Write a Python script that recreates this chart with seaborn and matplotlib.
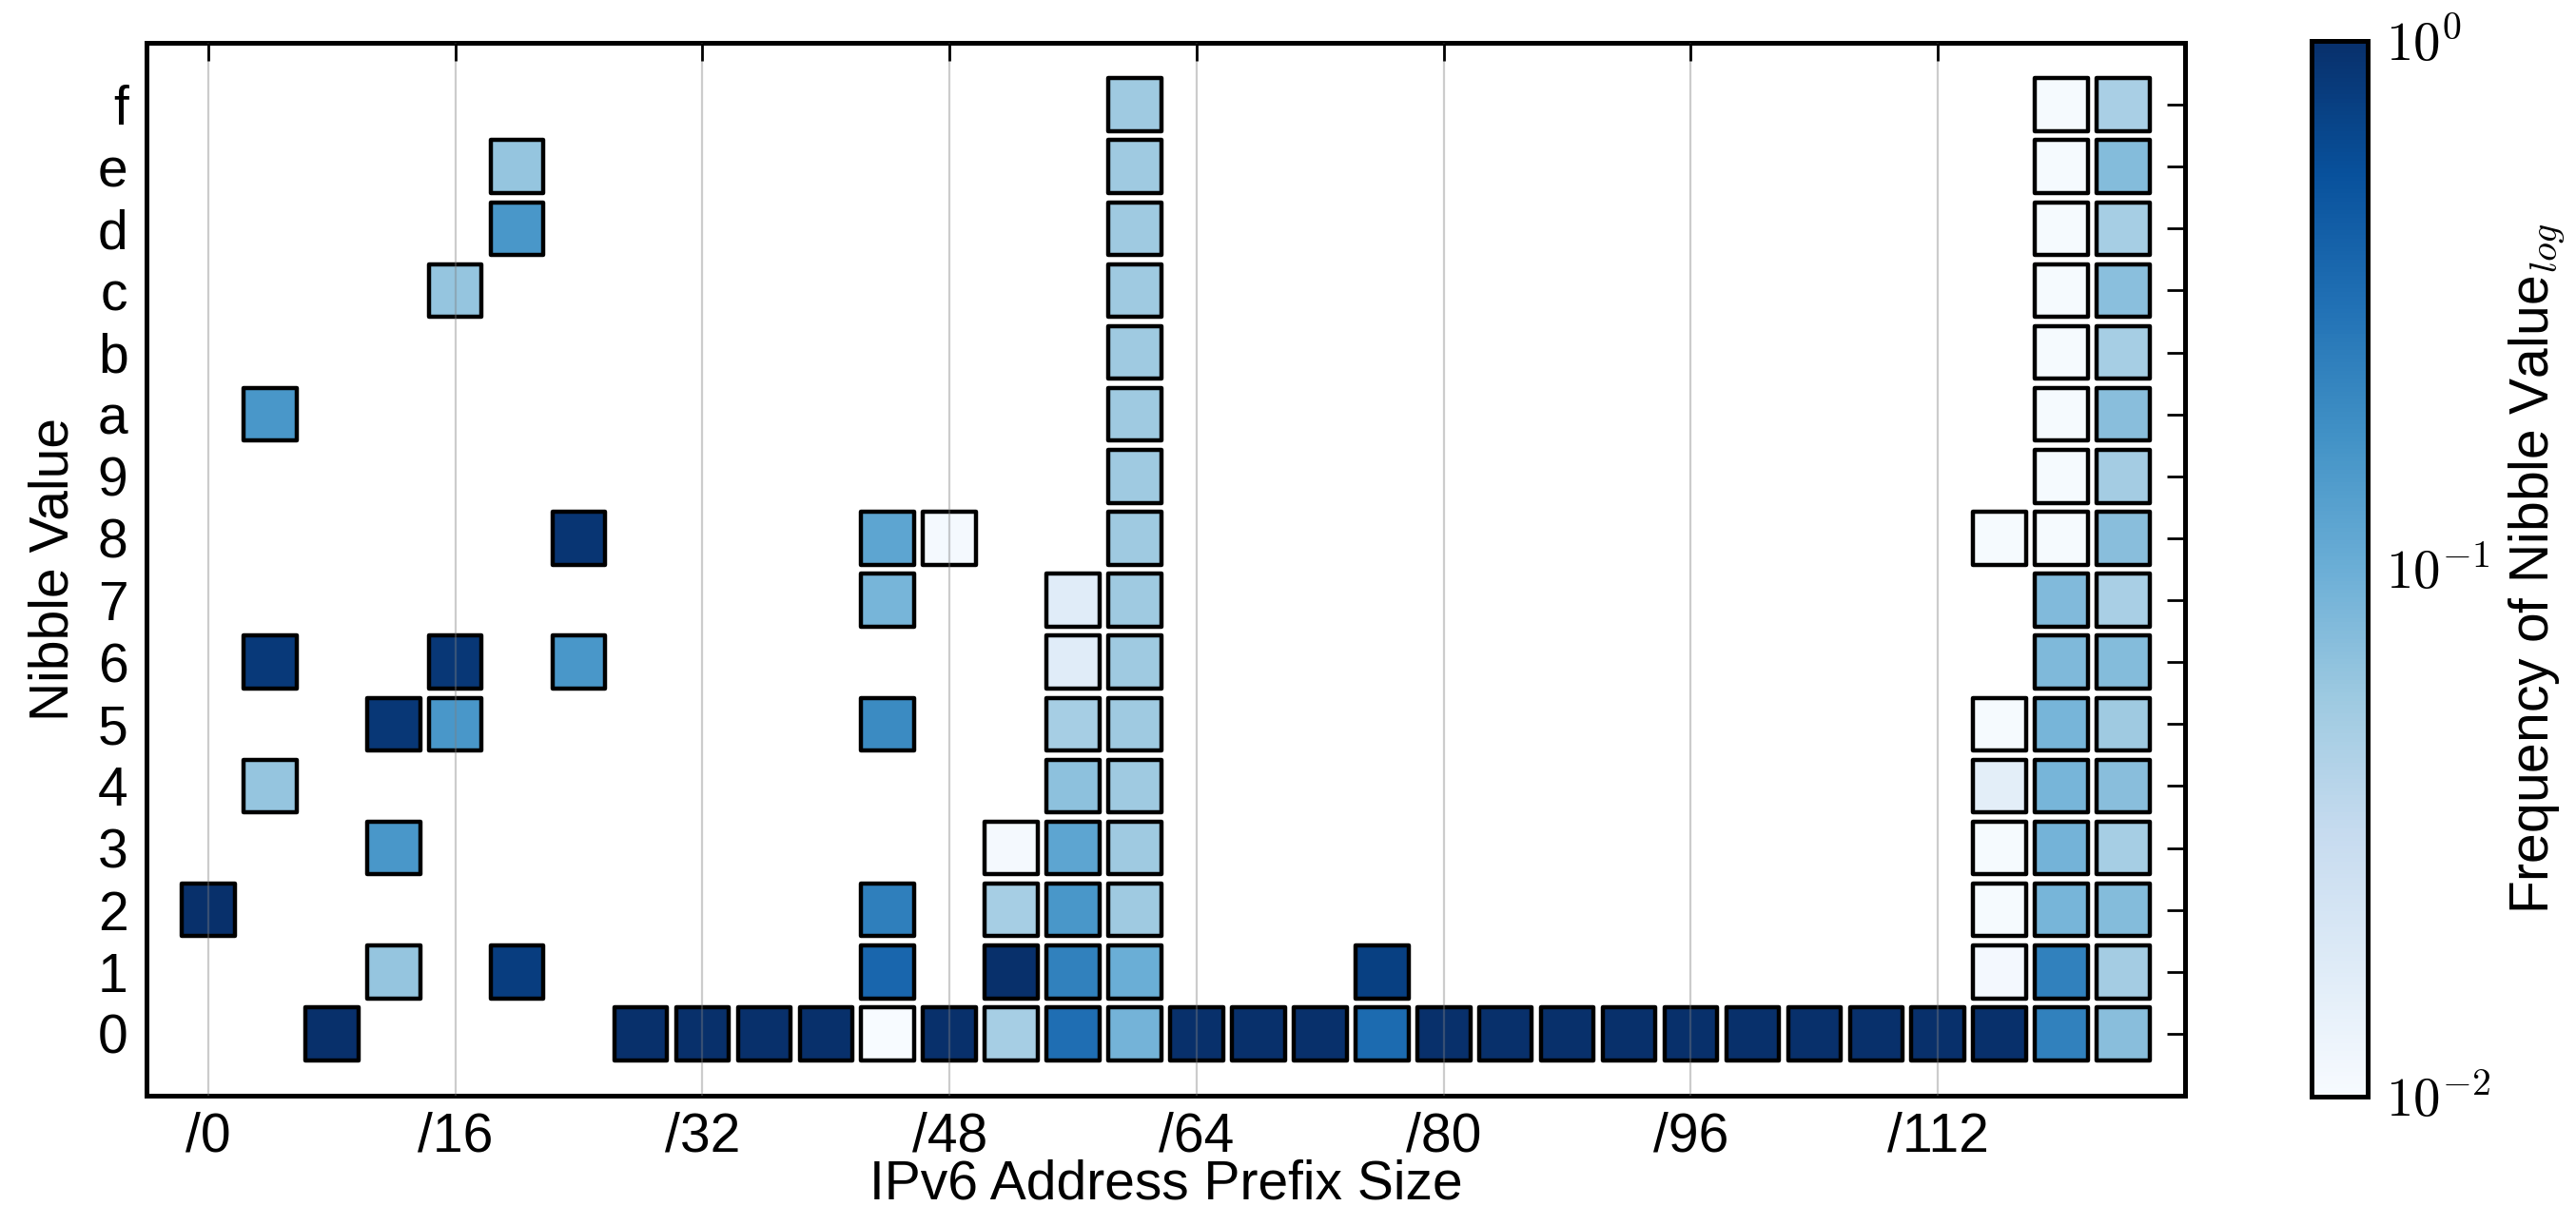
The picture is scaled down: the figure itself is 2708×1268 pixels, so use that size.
import matplotlib
matplotlib.use("Agg")
import matplotlib.pyplot as plt
from matplotlib.colors import LogNorm
from matplotlib.cm import ScalarMappable
import pandas as pd
import seaborn as sns

# one entry per drawn square: prefix bit offset, nibble value, frequency
prefix_bits = (
    [0]
    + [4, 4, 4]
    + [8]
    + [12, 12, 12]
    + [16, 16, 16]
    + [20, 20, 20]
    + [24, 24]
    + [28, 32, 36, 40]
    + [44] * 6
    + [48, 48]
    + [52] * 4
    + [56] * 8
    + [60] * 16
    + [64, 68, 72]
    + [76, 76]
    + [80, 84, 88, 92, 96, 100, 104, 108, 112]
    + [116] * 7
    + [120] * 16
    + [124] * 16
)
nibble_value = (
    [2]
    + [10, 6, 4]
    + [0]
    + [5, 3, 1]
    + [12, 6, 5]
    + [14, 13, 1]
    + [8, 6]
    + [0, 0, 0, 0]
    + [8, 7, 5, 2, 1, 0]
    + [8, 0]
    + [3, 2, 1, 0]
    + [7, 6, 5, 4, 3, 2, 1, 0]
    + list(range(15, -1, -1))
    + [0, 0, 0]
    + [1, 0]
    + [0] * 9
    + [8, 5, 4, 3, 2, 1, 0]
    + list(range(15, -1, -1))
    + list(range(15, -1, -1))
)
frequency = (
    [1.0]
    + [0.16, 0.85, 0.062]
    + [1.0]
    + [0.88, 0.16, 0.062]
    + [0.062, 0.88, 0.16]
    + [0.062, 0.16, 0.78]
    + [0.9, 0.16]
    + [1.0, 1.0, 1.0, 1.0]
    + [0.12, 0.088, 0.2, 0.25, 0.38, 0.0101]
    + [0.0108, 1.0]
    + [0.0108, 0.05, 1.0, 0.05]
    + [0.017, 0.017, 0.05, 0.068, 0.12, 0.16, 0.24, 0.33]
    + [0.056] * 14 + [0.1, 0.09]
    + [1.0, 1.0, 1.0]
    + [0.75, 0.35]
    + [1.0] * 9
    + [0.0105, 0.0105, 0.016, 0.0105, 0.0105, 0.011, 1.0]
    + [0.0105] * 8 + [0.078, 0.08, 0.087, 0.087, 0.09, 0.087, 0.24, 0.24]
    + [0.048, 0.075, 0.05, 0.07, 0.05, 0.072, 0.052, 0.072,
       0.048, 0.075, 0.056, 0.072, 0.05, 0.075, 0.052, 0.072]
)

x_ticks = [0, 16, 32, 48, 64, 80, 96, 112]
x_tick_labels = ["/0", "/16", "/32", "/48", "/64", "/80", "/96", "/112"]
y_ticks = list(range(16))
y_tick_labels = list("0123456789abcdef")
cbar_ticks = [0.01, 0.1, 1.0]
cbar_tick_labels = [r"$10^{-2}$", r"$10^{-1}$", r"$10^{0}$"]

sns.set_theme(style="white")
plt.rcParams["font.family"] = ["Liberation Sans", "DejaVu Sans"]
plt.rcParams["mathtext.fontset"] = "cm"
plt.rcParams.update({
    "text.color": "black",
    "axes.labelcolor": "black",
    "xtick.labelcolor": "black",
    "ytick.labelcolor": "black",
    "xtick.direction": "in",
    "ytick.direction": "in",
    "xtick.top": True,
    "ytick.right": True,
    "xtick.major.size": 7,
    "ytick.major.size": 7,
    "xtick.major.width": 1.0,
    "ytick.major.width": 1.0,
    "xtick.color": "black",
    "ytick.color": "black",
    "axes.edgecolor": "black",
    "axes.linewidth": 1.8,
})

W, H = 2708, 1268
fig = plt.figure(figsize=(W / 200, H / 200), dpi=200)
ax = fig.add_axes([154 / W, 1 - 1152 / H, (2297 - 154) / W, (1152 - 45) / H])
cax = fig.add_axes([2430 / W, 1 - 1153 / H, (2489 - 2430) / W, (1153 - 43) / H])

df = pd.DataFrame({"prefix": prefix_bits, "nibble": nibble_value, "freq": frequency})
norm = LogNorm(vmin=0.01, vmax=1.0)

sns.scatterplot(
    data=df, x="prefix", y="nibble", hue="freq", hue_norm=norm,
    palette="Blues", marker="s", s=400, edgecolor="black", linewidth=1.6,
    legend=False, ax=ax, zorder=2,
)

ax.set_xlim(-4, 128)
ax.set_ylim(-1, 16)
ax.set_xticks(x_ticks, labels=x_tick_labels)
ax.set_yticks(y_ticks, labels=y_tick_labels)
ax.tick_params(labelsize=20.5, pad=7)
ax.tick_params(axis="x", pad=6)
ax.grid(axis="x", color="gray", alpha=0.4, linewidth=0.8, zorder=3)
ax.set_axisbelow(False)
ax.set_xlabel("IPv6 Address Prefix Size", fontsize=20.5, labelpad=-1.5)
ax.set_ylabel("Nibble Value", fontsize=20.5, labelpad=7)

sm = ScalarMappable(norm=norm, cmap="Blues")
cb = fig.colorbar(sm, cax=cax)
cb.outline.set_linewidth(1.8)
cb.outline.set_edgecolor("black")
cax.minorticks_off()
cax.set_yticks(cbar_ticks, labels=cbar_tick_labels)
cax.tick_params(axis="y", direction="in", length=7, width=1.0, labelsize=20.5, pad=7,
                left=False, right=True, colors="black")
cb.set_label("Frequency of Nibble Value$_{log}$", fontsize=20.5, labelpad=6, color="black")

fig.savefig("out.png", dpi=200)
